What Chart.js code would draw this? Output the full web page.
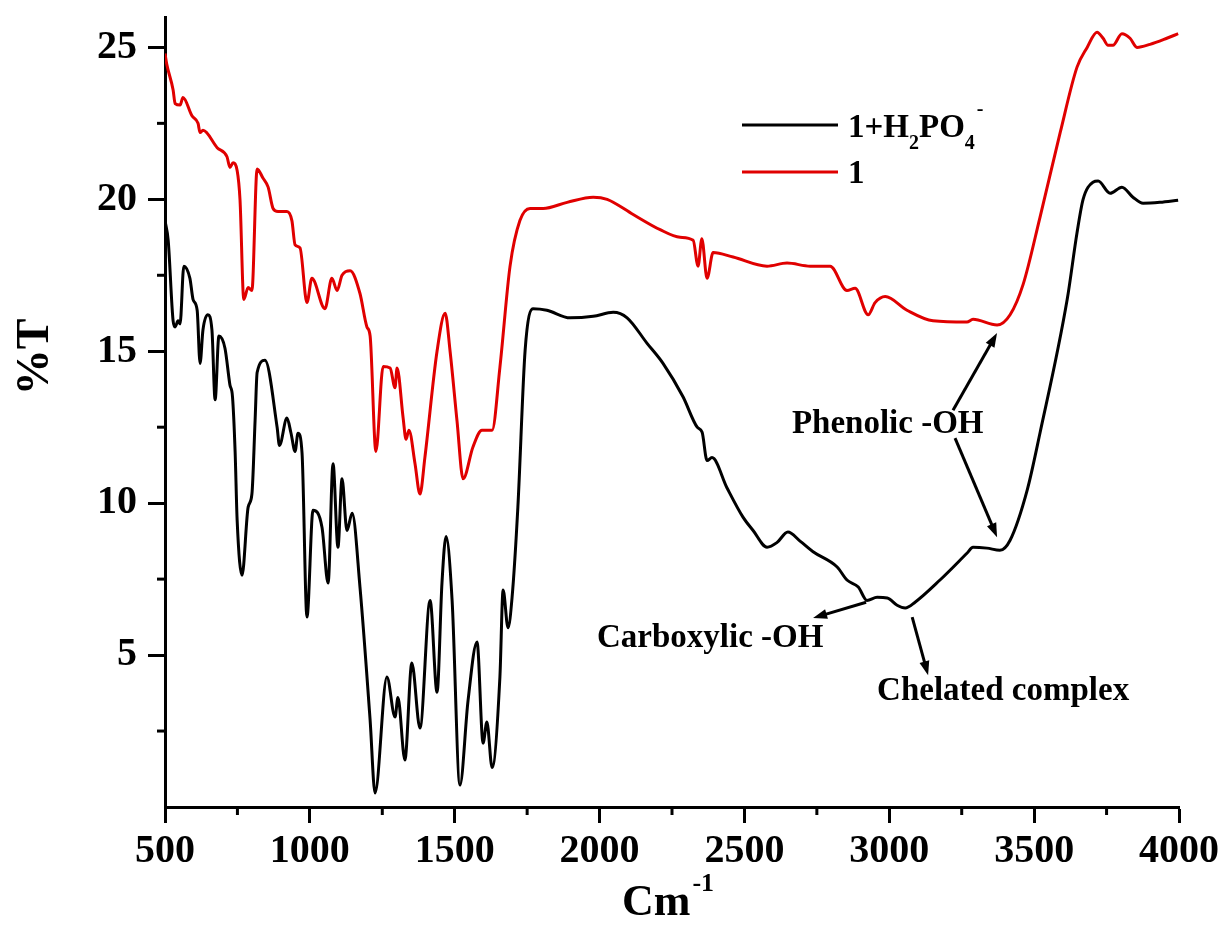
<!DOCTYPE html>
<html>
<head>
<meta charset="utf-8">
<script src="https://cdn.jsdelivr.net/npm/chart.js@4.4.1/dist/chart.umd.min.js"></script>
<style>
  html, body { margin: 0; padding: 0; background: #fff; }
</style>
</head>
<body>
<canvas id="ftir" width="1229" height="934"></canvas>
<script>
// FTIR spectra (wavenumber in cm-1, %T)

const ligandWave = [500, 506, 528, 535, 552, 562, 593, 614, 621, 631, 680, 714, 724, 735, 749, 759, 772, 787, 800,
  818, 838, 856, 873, 890, 921, 938, 949, 966, 990, 1007, 1052, 1076, 1094, 1111, 1139, 1173, 1197, 1208,
  1228, 1253, 1277, 1294, 1301, 1322, 1332, 1342, 1363, 1380, 1397, 1439, 1467, 1484, 1508, 1529, 1563,
  1594, 1629, 1656, 1691, 1725, 1760, 1805, 1888, 1978, 2026, 2116, 2209, 2278, 2323, 2340, 2353, 2371,
  2392, 2461, 2578, 2647, 2727, 2796, 2854, 2882, 2927, 2951, 2986, 3061, 3151, 3268, 3289, 3372, 3417,
  3462, 3520, 3590, 3648, 3683, 3717, 3738, 3755, 3772, 3803, 3831, 3855, 3900, 3958, 3997];
const ligandT = [24.8, 24.45, 23.6, 23.15, 23.1, 23.35, 22.75, 22.5, 22.2, 22.27, 21.7, 21.4, 21.05, 21.2, 20.95, 19.97, 16.7, 17.1, 17.0,
  21.0, 20.7, 20.4, 19.7, 19.6, 19.6, 19.3, 18.5, 18.4, 16.6, 17.4, 16.4, 17.4, 17.0, 17.5, 17.65, 16.9, 15.8, 15.5,
  11.7, 14.5, 14.45, 13.8, 14.45, 12.8, 12.1, 12.4, 11.3, 10.3, 11.5, 15.0, 16.25, 15.0, 12.7, 10.8, 11.85,
  12.4, 12.4, 14.47, 17.8, 19.3, 19.7, 19.7, 19.9, 20.07, 20.0, 19.5, 19.0, 18.75, 18.65, 17.8, 18.7, 17.4,
  18.25, 18.1, 17.8, 17.9, 17.8, 17.8, 17.0, 17.07, 16.2, 16.6, 16.8, 16.35, 16.0, 15.96, 16.05, 15.86, 16.2,
  17.2, 19.4, 22.2, 24.35, 25.0, 25.5, 25.3, 25.07, 25.07, 25.45, 25.3, 25.0, 25.1, 25.3, 25.45];

const complexWave = [500, 511, 528, 535, 545, 552, 565, 586, 597, 611, 621, 631, 648, 662, 673, 686, 707, 724, 733, 742,
  749, 766, 787, 800, 811, 818, 845, 887, 895, 921, 935, 949, 959, 973, 990, 1011, 1042, 1063, 1080, 1097,
  1111, 1128, 1146, 1173, 1208, 1225, 1266, 1294, 1304, 1328, 1352, 1380, 1415, 1439, 1456, 1470, 1491,
  1518, 1546, 1577, 1598, 1611, 1629, 1656, 1667, 1684, 1698, 1718, 1743, 1770, 1818, 1898, 1978, 2047,
  2095, 2164, 2219, 2288, 2337, 2354, 2371, 2388, 2440, 2495, 2530, 2578, 2612, 2650, 2692, 2737, 2820,
  2854, 2893, 2923, 2958, 2993, 3027, 3055, 3089, 3175, 3268, 3289, 3337, 3382, 3417, 3476, 3520, 3614,
  3648, 3669, 3703, 3721, 3762, 3803, 3841, 3876, 3934, 3997];
const complexT = [19.3, 18.65, 16.0, 15.8, 16.0, 15.9, 17.8, 17.4, 16.7, 16.35, 14.6, 15.7, 16.2, 15.7, 13.4, 15.5, 15.1, 13.9, 13.5, 11.7,
  9.44, 7.63, 9.87, 10.3, 12.73, 14.3, 14.7, 12.5, 11.9, 12.8, 12.3, 11.7, 12.3, 11.65, 6.25, 9.77, 9.2, 7.37, 11.3, 8.55,
  10.8, 9.1, 9.67, 7.24, 2.86, 0.46, 4.28, 2.96, 3.6, 1.55, 4.74, 2.6, 6.8, 3.78, 7.37, 8.9, 6.8,
  0.72, 3.5, 5.43, 2.1, 2.8, 1.3, 4.28, 7.14, 5.9, 6.9, 9.87, 15.03, 16.4, 16.35, 16.1, 16.15, 16.28,
  16.1, 15.26, 14.6, 13.5, 12.5, 12.33, 11.4, 11.5, 10.5, 9.54, 9.1, 8.55, 8.7, 9.05, 8.75, 8.4, 7.9,
  7.47, 7.24, 6.8, 6.9, 6.88, 6.64, 6.55, 6.74, 7.47, 8.35, 8.55, 8.52, 8.45, 8.78, 10.43, 12.3, 16.7,
  18.9, 20.0, 20.56, 20.6, 20.2, 20.4, 20.07, 19.87, 19.9, 19.97];

// annotations (data coordinates)
const noteText = ['Phenolic -OH', 'Carboxylic -OH', 'Chelated complex'];
const noteX = [2664, 1991, 2958];
const noteY = [12.3, 5.26, 3.52];
const arrowFromX = [3220, 3227, 2920, 3079];
const arrowFromY = [13.06, 12.14, 6.74, 6.25];
const arrowToX = [3372, 3372, 2737, 3134];
const arrowToY = [15.6, 8.88, 6.22, 4.34];

const FONT = "'Liberation Serif', 'Times New Roman', serif";
const RED = '#e00000';

function toPoints(xs, ys) {
    return xs.map((x, i) => ({ x: x, y: ys[i] }));
}

function drawArrow(ctx, x1, y1, x2, y2) {
    const a = Math.atan2(y2 - y1, x2 - x1);
    const L = 14, W = 5;
    ctx.beginPath();
    ctx.moveTo(x1, y1);
    ctx.lineTo(x2 - L * 0.6 * Math.cos(a), y2 - L * 0.6 * Math.sin(a));
    ctx.stroke();
    ctx.beginPath();
    ctx.moveTo(x2, y2);
    ctx.lineTo(x2 - L * Math.cos(a) + W * Math.sin(a), y2 - L * Math.sin(a) - W * Math.cos(a));
    ctx.lineTo(x2 - L * Math.cos(a) - W * Math.sin(a), y2 - L * Math.sin(a) + W * Math.cos(a));
    ctx.closePath();
    ctx.fill();
}

// draws minor ticks, axis titles, legend and the peak annotations
const decorPlugin = {
    id: 'decor',
    afterDraw(chart) {
        const ctx = chart.ctx;
        const xs = chart.scales.x, ys = chart.scales.y;
        const area = chart.chartArea;
        ctx.save();
        ctx.strokeStyle = '#000';
        ctx.fillStyle = '#000';
        ctx.lineWidth = 3;

        // minor ticks
        for (let v = 750; v < 4000; v += 500) {
            const px = xs.getPixelForValue(v);
            ctx.beginPath(); ctx.moveTo(px, area.bottom); ctx.lineTo(px, area.bottom + 8); ctx.stroke();
        }
        for (let v = 2.5; v < 26; v += 5) {
            const py = ys.getPixelForValue(v);
            ctx.beginPath(); ctx.moveTo(area.left, py); ctx.lineTo(area.left - 8, py); ctx.stroke();
        }

        // axis titles
        ctx.textBaseline = 'alphabetic';
        ctx.save();
        ctx.translate(48, (area.top + area.bottom) / 2 - 55);
        ctx.rotate(-Math.PI / 2);
        ctx.textAlign = 'center';
        ctx.font = `bold 46px ${FONT}`;
        ctx.fillText('%T', 0, 0);
        ctx.restore();

        ctx.textAlign = 'left';
        ctx.font = `bold 44px ${FONT}`;
        const cmX = 622;
        ctx.fillText('Cm', cmX, 915);
        const cmW = ctx.measureText('Cm').width;
        ctx.font = `bold 26px ${FONT}`;
        ctx.fillText('-1', cmX + cmW + 2, 891);

        // legend
        const lx0 = 742, lx1 = 838, tx = 848;
        ctx.lineWidth = 3;
        ctx.strokeStyle = '#000';
        ctx.beginPath(); ctx.moveTo(lx0, 125); ctx.lineTo(lx1, 125); ctx.stroke();
        ctx.strokeStyle = RED;
        ctx.beginPath(); ctx.moveTo(lx0, 172); ctx.lineTo(lx1, 172); ctx.stroke();

        const big = `bold 33px ${FONT}`, small = `bold 20px ${FONT}`;
        let cx = tx;
        const parts = [['1+H', big, 0], ['2', small, 12], ['PO', big, 0], ['4', small, 12], ['-', small, -22]];
        parts.forEach(([t, f, dy], i) => {
            ctx.font = f;
            ctx.fillText(t, cx, 137 + dy);
            cx += ctx.measureText(t).width + (i === 3 ? 2 : 0);
        });
        ctx.font = big;
        ctx.fillText('1', tx, 183);

        // annotations
        ctx.strokeStyle = '#000';
        ctx.font = `bold 33px ${FONT}`;
        noteText.forEach((t, i) => {
            ctx.fillText(t, xs.getPixelForValue(noteX[i]), ys.getPixelForValue(noteY[i]));
        });
        ctx.lineWidth = 3;
        arrowFromX.forEach((x, i) => {
            drawArrow(ctx,
                xs.getPixelForValue(x), ys.getPixelForValue(arrowFromY[i]),
                xs.getPixelForValue(arrowToX[i]), ys.getPixelForValue(arrowToY[i]));
        });
        ctx.restore();
    }
};

const isMajorY = v => v % 5 === 0 && v > 0 && v < 26;

new Chart(document.getElementById('ftir').getContext('2d'), {
    type: 'line',
    data: {
        datasets: [
            {
                label: '1+H2PO4-',
                data: toPoints(complexWave, complexT),
                borderColor: '#000',
                borderWidth: 3,
                pointRadius: 0,
                cubicInterpolationMode: 'monotone',
                fill: false
            },
            {
                label: '1',
                data: toPoints(ligandWave, ligandT),
                borderColor: RED,
                borderWidth: 3,
                pointRadius: 0,
                cubicInterpolationMode: 'monotone',
                fill: false
            }
        ]
    },
    options: {
        responsive: false,
        animation: false,
        layout: { padding: { top: 17, right: 50, left: 0, bottom: 0 } },
        plugins: { legend: { display: false }, tooltip: { enabled: false } },
        scales: {
            x: {
                type: 'linear',
                min: 500,
                max: 4000,
                afterFit: s => { s.height = 127; s.paddingLeft = 0; s.paddingRight = 0; },
                border: { display: true, color: '#000', width: 3 },
                grid: {
                    drawOnChartArea: false,
                    tickLength: 16,
                    tickWidth: 3,
                    tickColor: c => (c.tick && c.tick.value % 500 === 0) ? '#000' : 'rgba(0,0,0,0)'
                },
                ticks: {
                    stepSize: 250,
                    autoSkip: false,
                    maxRotation: 0,
                    padding: 5,
                    color: '#000',
                    font: { family: FONT, size: 40, weight: 'bold' },
                    callback: v => v % 500 === 0 ? String(v) : ''
                }
            },
            y: {
                min: 0,
                max: 26,
                afterFit: s => { s.width = 165; s.paddingTop = 0; s.paddingBottom = 0; },
                border: { display: true, color: '#000', width: 3 },
                grid: {
                    drawOnChartArea: false,
                    tickLength: 17,
                    tickWidth: 3,
                    tickColor: c => (c.tick && isMajorY(c.tick.value)) ? '#000' : 'rgba(0,0,0,0)'
                },
                ticks: {
                    stepSize: 2.5,
                    includeBounds: false,
                    autoSkip: false,
                    padding: 11,
                    color: '#000',
                    font: { family: FONT, size: 40, weight: 'bold' },
                    callback: v => isMajorY(v) ? String(v) : ''
                }
            }
        }
    },
    plugins: [decorPlugin]
});
</script>
</body>
</html>
